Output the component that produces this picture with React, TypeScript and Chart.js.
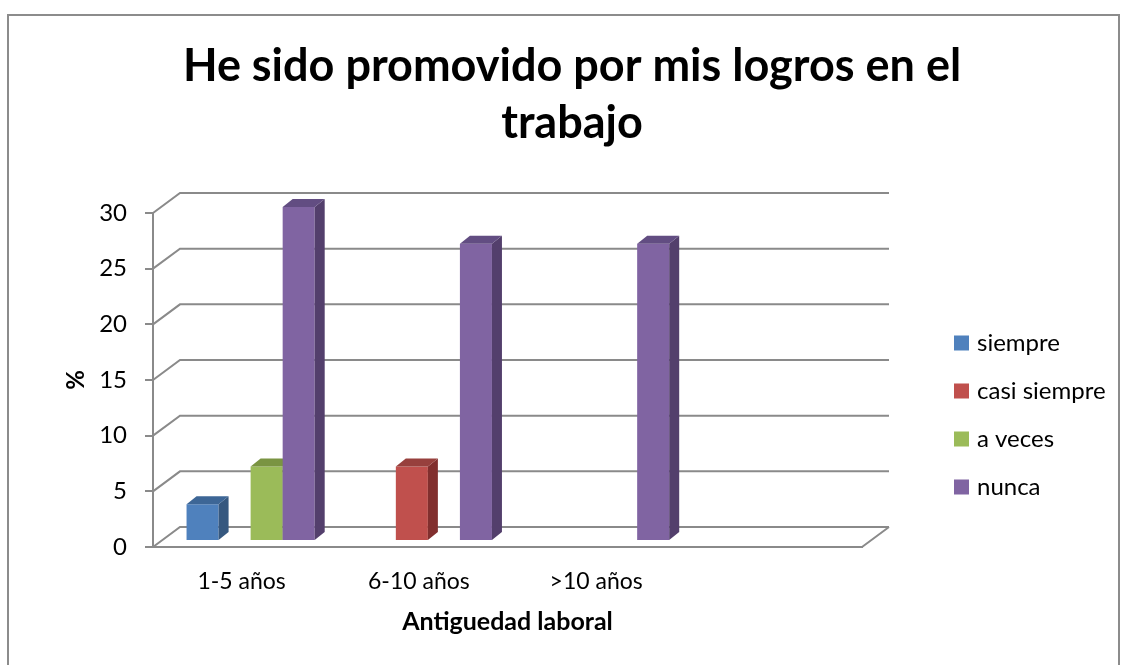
import React, { useEffect, useRef } from 'react';
import { Chart, registerables } from 'chart.js';

Chart.register(...registerables);

// ---- data ----
const categories = ['1-5 años', '6-10 años', '>10 años', ''];
const seriesNames = ['siempre', 'casi siempre', 'a veces', 'nunca'];
const siempre = [3.3, 0, 0, null];
const casiSiempre = [0, 6.7, 0, null];
const aVeces = [6.7, 0, 0, null];
const nunca = [30, 26.7, 26.7, null];
const yTicks = [0, 5, 10, 15, 20, 25, 30];
const titleLines = ['He sido promovido por mis logros en el', 'trabajo'];
const xTitle = 'Antiguedad laboral';
const yTitle = '%';

// ---- styles ----
const frontColors = ['#4F81BD', '#C0504D', '#9BBB59', '#8064A2'];
const sideColors = ['#36587F', '#812F2E', '#6B833A', '#533F6C'];
const topColors = ['#3D6696', '#97403D', '#7A9442', '#624D82'];
const FONT = 'Lato, "Open Sans", sans-serif';
const GRID = '#8a8a8a';

const WALL_DX = 27;
const WALL_DY = -20;
const BAR_SHIFT_X = 9;
const BAR_SHIFT_Y = -6;
const BAR_DX = 10;
const BAR_DY = -8;

const pseudo3d = {
  id: 'pseudo3d',
  beforeDatasetsDraw(chart: any) {
    const { ctx, chartArea: a, scales } = chart;
    const y = scales.y;
    ctx.save();
    ctx.strokeStyle = GRID;
    ctx.lineWidth = 2;
    ctx.beginPath();
    for (const v of yTicks) {
      const py = y.getPixelForValue(v);
      ctx.moveTo(a.left, py);
      ctx.lineTo(a.left + WALL_DX, py + WALL_DY);
      ctx.lineTo(a.right + WALL_DX, py + WALL_DY);
    }
    const p0 = y.getPixelForValue(0);
    ctx.moveTo(a.right, p0);
    ctx.lineTo(a.right + WALL_DX, p0 + WALL_DY);
    ctx.stroke();
    ctx.restore();
  },
  beforeDatasetDraw() {
    // bars are drawn below, left to right, so the 3D faces overlap correctly
    return false;
  },
  afterDatasetsDraw(chart: any) {
    const { ctx } = chart;
    const items: any[] = [];
    chart.getSortedVisibleDatasetMetas().forEach((meta: any) => {
      meta.data.forEach((el: any, i: number) => {
        const val = chart.data.datasets[meta.index].data[i];
        if (val == null) return;
        items.push({ el, di: meta.index, val });
      });
    });
    items.sort((p, q) => p.el.x - q.el.x);
    ctx.save();
    ctx.translate(BAR_SHIFT_X, BAR_SHIFT_Y);
    for (const { el, di, val } of items) {
      if (val === 0) continue;
      el.draw(ctx);
      const { x, y, base, width } = el.getProps(['x', 'y', 'base', 'width'], true);
      const l = x - width / 2;
      const r = x + width / 2;
      ctx.fillStyle = sideColors[di];
      ctx.beginPath();
      ctx.moveTo(r, y);
      ctx.lineTo(r + BAR_DX, y + BAR_DY);
      ctx.lineTo(r + BAR_DX, base + BAR_DY);
      ctx.lineTo(r, base);
      ctx.closePath();
      ctx.fill();
      ctx.fillStyle = topColors[di];
      ctx.beginPath();
      ctx.moveTo(l, y);
      ctx.lineTo(l + BAR_DX, y + BAR_DY);
      ctx.lineTo(r + BAR_DX, y + BAR_DY);
      ctx.lineTo(r, y);
      ctx.closePath();
      ctx.fill();
    }
    ctx.restore();
  },
  afterDraw(chart: any) {
    const { ctx } = chart;
    ctx.save();
    // title
    ctx.fillStyle = '#000';
    ctx.font = `bold 45px ${FONT}`;
    ctx.textAlign = 'center';
    ctx.textBaseline = 'alphabetic';
    ctx.fillText(titleLines[0], 572, 81);
    ctx.fillText(titleLines[1], 572, 138);
    // legend
    ctx.font = `24px ${FONT}`;
    ctx.textAlign = 'left';
    ctx.textBaseline = 'middle';
    chart.data.datasets.forEach((ds: any, i: number) => {
      const cy = 343 + i * 48;
      ctx.fillStyle = ds.backgroundColor;
      ctx.fillRect(954, cy - 7.5, 15, 15);
      ctx.fillStyle = '#000';
      ctx.fillText(ds.label, 977, cy);
    });
    ctx.restore();
  },
};

export default function App() {
  const ref = useRef<HTMLCanvasElement>(null);
  useEffect(() => {
    if (!ref.current) return;
    const seriesData = [siempre, casiSiempre, aVeces, nunca];
    const chart = new Chart(ref.current, {
      type: 'bar',
      data: {
        labels: categories,
        datasets: seriesNames.map((name, i) => ({
          label: name,
          data: seriesData[i],
          backgroundColor: frontColors[i],
          borderWidth: 0,
          clip: false,
          categoryPercentage: 0.723,
          barPercentage: 1,
        })) as any,
      },
      options: {
        responsive: false,
        animation: false,
        devicePixelRatio: 1,
        events: [],
        layout: { padding: { top: 213, right: 267, bottom: 0, left: 0 } },
        plugins: {
          legend: { display: false },
          title: { display: false },
          tooltip: { enabled: false },
        },
        scales: {
          x: {
            grid: { display: false, drawTicks: false },
            border: { display: true, color: GRID, width: 2 },
            ticks: {
              font: { family: FONT, size: 23 },
              color: '#000',
              padding: 21,
              maxRotation: 0,
              autoSkip: false,
            },
            title: {
              display: true,
              text: xTitle,
              color: '#000',
              font: { family: FONT, size: 25, weight: 'bold' },
              padding: { top: 0, bottom: 28 },
            },
            afterFit: (s: any) => {
              s.height = 118;
            },
          },
          y: {
            min: 0,
            max: 30,
            ticks: {
              stepSize: 5,
              font: { family: FONT, size: 24 },
              color: '#000',
              padding: 18,
            },
            grid: {
              display: true,
              drawOnChartArea: false,
              drawTicks: true,
              tickLength: 8,
              color: GRID,
              lineWidth: 2,
            },
            border: { display: true, color: GRID, width: 2 },
            title: {
              display: true,
              text: yTitle,
              color: '#000',
              font: { family: FONT, size: 24, weight: 'bold' },
              padding: { top: 62, bottom: 0 },
            },
            afterFit: (s: any) => {
              s.width = 153;
            },
          },
        },
      } as any,
      plugins: [pseudo3d],
    });
    return () => chart.destroy();
  }, []);

  return (
    <div>
      <div
        style={{
          position: 'absolute',
          left: 7,
          top: 14,
          width: 1113,
          height: 651,
          boxSizing: 'border-box',
          borderTop: '2px solid #8c8c8c',
          borderLeft: '2px solid #8c8c8c',
          borderRight: '2px solid #8c8c8c',
        }}
      />
      <canvas
        ref={ref}
        width={1129}
        height={665}
        style={{ position: 'absolute', left: 0, top: 0, width: 1129, height: 665, display: 'block' }}
      />
    </div>
  );
}
